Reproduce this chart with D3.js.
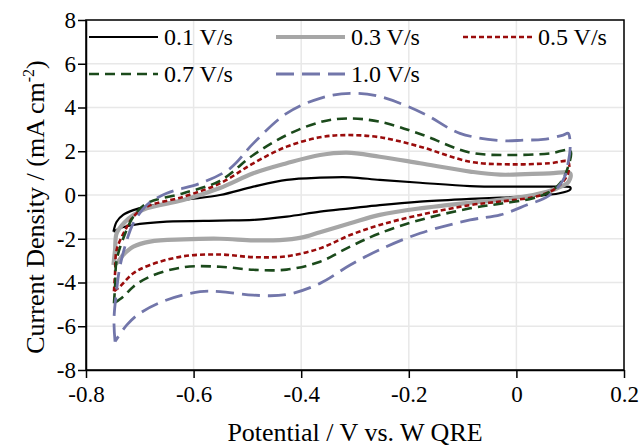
<!DOCTYPE html>
<html>
<head>
<meta charset="utf-8">
<script src="https://cdn.jsdelivr.net/npm/d3@7"></script>
<style>
  html, body { margin: 0; padding: 0; background: #fff; }
  svg { display: block; font-family: "Liberation Serif", "Times New Roman", serif; }
</style>
</head>
<body>
<svg id="chart" width="639" height="446"></svg>
<script>
// Cyclic voltammograms at five scan rates: [potential (V), current density (mA cm^-2)],
// anodic sweep from the negative vertex to +0.1 V, then the cathodic sweep back.
const scanRates = ["0.1 V/s", "0.3 V/s", "0.5 V/s", "0.7 V/s", "1.0 V/s"];

const cv01 = [
  [-0.749, -1.68], [-0.743, -1.22], [-0.731, -0.91], [-0.712, -0.69], [-0.687, -0.53],
  [-0.65, -0.38], [-0.619, -0.23], [-0.551, 0.0], [-0.489, 0.38], [-0.427, 0.69],
  [-0.365, 0.79], [-0.309, 0.81], [-0.254, 0.69], [-0.179, 0.56], [-0.086, 0.41],
  [-0.012, 0.38], [0.05, 0.38], [0.085, 0.38], [0.1, 0.35], [0.1, 0.25],
  [0.08, 0.08], [0.03, -0.05], [-0.03, -0.12], [-0.086, -0.18], [-0.179, -0.3],
  [-0.254, -0.46], [-0.309, -0.61], [-0.365, -0.76], [-0.427, -0.99], [-0.489, -1.14],
  [-0.551, -1.17], [-0.65, -1.22], [-0.712, -1.37], [-0.737, -1.52], [-0.749, -1.68]
];

const cv03 = [
  [-0.749, -3.2], [-0.746, -2.51], [-0.743, -1.75], [-0.727, -1.22], [-0.712, -0.91],
  [-0.687, -0.61], [-0.619, -0.23], [-0.551, 0.32], [-0.489, 0.99], [-0.427, 1.45],
  [-0.365, 1.83], [-0.315, 1.94], [-0.254, 1.75], [-0.179, 1.45], [-0.086, 1.07],
  [-0.03, 0.93], [0.062, 0.99], [0.1, 0.99], [0.097, 0.61], [0.075, 0.3],
  [0.031, 0.0], [-0.03, -0.22], [-0.086, -0.35], [-0.179, -0.61], [-0.254, -0.91],
  [-0.309, -1.29], [-0.365, -1.7], [-0.4, -1.95], [-0.44, -2.06], [-0.489, -2.07],
  [-0.551, -2.0], [-0.619, -2.03], [-0.681, -2.13], [-0.712, -2.36], [-0.731, -2.74],
  [-0.743, -3.12], [-0.749, -3.2]
];

const cv05 = [
  [-0.748, -4.4], [-0.746, -3.58], [-0.743, -2.51], [-0.727, -1.6], [-0.712, -0.99],
  [-0.687, -0.53], [-0.619, -0.08], [-0.551, 0.53], [-0.489, 1.45], [-0.427, 2.21],
  [-0.365, 2.64], [-0.315, 2.74], [-0.254, 2.64], [-0.179, 2.21], [-0.086, 1.52],
  [-0.012, 1.4], [0.062, 1.45], [0.096, 1.52], [0.096, 0.99], [0.081, 0.46],
  [0.062, 0.15], [0.031, -0.1], [-0.03, -0.3], [-0.086, -0.46], [-0.179, -0.91],
  [-0.254, -1.37], [-0.309, -1.83], [-0.365, -2.44], [-0.427, -2.8], [-0.489, -2.84],
  [-0.551, -2.72], [-0.619, -2.8], [-0.681, -3.2], [-0.712, -3.58], [-0.737, -4.19],
  [-0.748, -4.4]
];

const cv07 = [
  [-0.748, -4.95], [-0.746, -4.19], [-0.743, -2.97], [-0.727, -1.75], [-0.712, -0.99],
  [-0.687, -0.38], [-0.619, 0.08], [-0.551, 0.65], [-0.489, 1.83], [-0.427, 2.74],
  [-0.365, 3.33], [-0.315, 3.5], [-0.254, 3.35], [-0.179, 2.79], [-0.086, 1.94],
  [-0.012, 1.83], [0.062, 1.9], [0.1, 2.03], [0.094, 1.14], [0.081, 0.53],
  [0.062, 0.15], [0.031, -0.15], [-0.03, -0.4], [-0.086, -0.61], [-0.179, -1.14],
  [-0.254, -1.75], [-0.309, -2.36], [-0.365, -3.05], [-0.427, -3.41], [-0.489, -3.42],
  [-0.551, -3.28], [-0.619, -3.3], [-0.681, -3.73], [-0.712, -4.19], [-0.731, -4.65],
  [-0.748, -4.95]
];

const cv10 = [
  [-0.746, -6.7], [-0.748, -5.71], [-0.743, -4.34], [-0.737, -3.28], [-0.724, -2.06],
  [-0.712, -1.29], [-0.687, -0.46], [-0.65, 0.08], [-0.588, 0.53], [-0.532, 1.22],
  [-0.489, 2.36], [-0.427, 3.73], [-0.365, 4.42], [-0.309, 4.65], [-0.254, 4.5],
  [-0.173, 3.73], [-0.105, 2.82], [-0.024, 2.48], [0.013, 2.51], [0.05, 2.54],
  [0.087, 2.74], [0.096, 2.82], [0.1, 2.29], [0.096, 1.45], [0.087, 0.69],
  [0.059, -0.05], [0.019, -0.46], [-0.03, -0.91], [-0.086, -1.14], [-0.179, -1.75],
  [-0.254, -2.5], [-0.309, -3.2], [-0.365, -4.04], [-0.427, -4.55], [-0.489, -4.58],
  [-0.551, -4.42], [-0.588, -4.42], [-0.65, -4.8], [-0.7, -5.41], [-0.724, -5.94],
  [-0.746, -6.7]
];

const xTicks = [-0.8, -0.6, -0.4, -0.2, 0, 0.2];
const yTicks = [-8, -6, -4, -2, 0, 2, 4, 6, 8];

const seriesData = [cv01, cv03, cv05, cv07, cv10];
const seriesStyle = [
  { color: "#000000", width: 2.2, dash: null },
  { color: "#a6a6a6", width: 4.2, dash: null },
  { color: "#9a0c0c", width: 2.6, dash: "5,3" },
  { color: "#1b4a1b", width: 2.6, dash: "10,6" },
  { color: "#7276aa", width: 2.8, dash: "18,8" }
];

const svg = d3.select("#chart");
const plot = { left: 86, right: 624, top: 20, bottom: 370 };

const x = d3.scaleLinear().domain([-0.8, 0.2]).range([plot.left, plot.right]);
const y = d3.scaleLinear().domain([-8, 8]).range([plot.bottom, plot.top]);

const fmt = v => String(Math.round(v * 10) / 10);

// gridlines
const grid = svg.append("g").attr("stroke", "#e8e8e8").attr("stroke-width", 1.5);
grid.selectAll("line.v").data(xTicks).join("line")
  .attr("x1", d => x(d)).attr("x2", d => x(d))
  .attr("y1", plot.top).attr("y2", plot.bottom);
grid.selectAll("line.h").data(yTicks).join("line")
  .attr("x1", plot.left).attr("x2", plot.right)
  .attr("y1", d => y(d)).attr("y2", d => y(d));

// plot frame
svg.append("rect")
  .attr("x", plot.left).attr("y", plot.top)
  .attr("width", plot.right - plot.left).attr("height", plot.bottom - plot.top)
  .attr("fill", "none").attr("stroke", "#000").attr("stroke-width", 1.5);

// axes
const xAxis = svg.append("g")
  .attr("transform", `translate(0,${plot.bottom})`)
  .call(d3.axisBottom(x).tickValues(xTicks).tickFormat(fmt).tickSize(8).tickSizeOuter(0));
const yAxis = svg.append("g")
  .attr("transform", `translate(${plot.left},0)`)
  .call(d3.axisLeft(y).tickValues(yTicks).tickFormat(fmt).tickSize(8).tickSizeOuter(0));

[xAxis, yAxis].forEach(a => {
  a.select(".domain").attr("stroke", "#000").attr("stroke-width", 1.5);
  a.selectAll(".tick line").attr("stroke", "#000").attr("stroke-width", 1.5);
  a.selectAll(".tick text")
    .attr("fill", "#000")
    .style("font-family", '"Liberation Serif", serif')
    .style("font-size", "23px");
});
xAxis.selectAll(".tick text").attr("y", 16);
yAxis.selectAll(".tick text").attr("x", -10);

// curves
const line = d3.line()
  .x(d => x(d[0]))
  .y(d => y(d[1]))
  .curve(d3.curveCatmullRom.alpha(0.5));

svg.append("g").selectAll("path").data(seriesData).join("path")
  .attr("d", line)
  .attr("fill", "none")
  .attr("stroke", (d, i) => seriesStyle[i].color)
  .attr("stroke-width", (d, i) => seriesStyle[i].width)
  .attr("stroke-dasharray", (d, i) => seriesStyle[i].dash)
  .attr("stroke-linejoin", "round");

// legend, two rows inside the plot
const legendCols = [89, 276, 463];
const legendRows = [37, 74];
const legend = svg.append("g").selectAll("g").data(scanRates).join("g")
  .attr("transform", (d, i) => `translate(${legendCols[i % 3]},${legendRows[Math.floor(i / 3)]})`);
legend.append("line")
  .attr("x1", 0).attr("x2", 69).attr("y1", 0).attr("y2", 0)
  .attr("stroke", (d, i) => seriesStyle[i].color)
  .attr("stroke-width", (d, i) => seriesStyle[i].width)
  .attr("stroke-dasharray", (d, i) => seriesStyle[i].dash);
legend.append("text")
  .attr("x", 75).attr("y", 0).attr("dy", "0.35em")
  .style("font-size", "24px")
  .text(d => d);

// axis titles
svg.append("text")
  .attr("x", (plot.left + plot.right) / 2).attr("y", 441)
  .attr("text-anchor", "middle")
  .style("font-size", "26px")
  .text("Potential / V vs. W QRE");

const yTitle = svg.append("text")
  .attr("transform", "translate(44,207) rotate(-90)")
  .attr("text-anchor", "middle")
  .style("font-size", "26px");
yTitle.append("tspan").text("Current Density / (mA cm");
yTitle.append("tspan").attr("dy", -10).style("font-size", "16px").text("-2");
yTitle.append("tspan").attr("dy", 10).text(")");
</script>
</body>
</html>
